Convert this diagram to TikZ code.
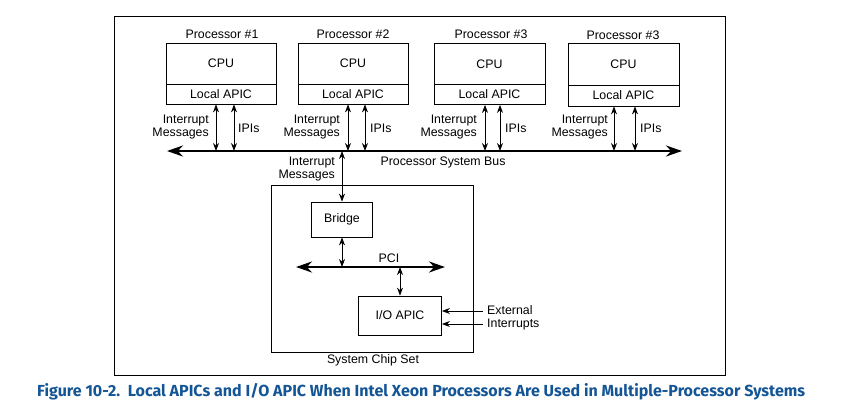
\documentclass[tikz,border=0pt]{standalone}
\usepackage{fontspec}
\setmainfont{Liberation Sans}
\newfontfamily\capfont{Fira Sans}
\usetikzlibrary{arrows.meta,calc}
\definecolor{capblue}{RGB}{20,85,150}
\tikzset{
  lbl/.style={inner sep=0pt, font=\fontsize{12.4}{12.8}\selectfont},
  cpubox/.style={draw, line width=0.8bp, minimum width=110bp, minimum height=41bp, inner sep=0pt, font=\fontsize{12.4}{12.8}\selectfont},
  apicbox/.style={draw, line width=0.8bp, minimum width=110bp, minimum height=20bp, inner sep=0pt, font=\fontsize{12.4}{12.8}\selectfont},
  plainbox/.style={draw, line width=0.8bp, inner sep=0pt, font=\fontsize{12.4}{12.8}\selectfont},
  varr/.style={line width=0.8bp, {Stealth[length=8bp,width=6bp]}-{Stealth[length=8bp,width=6bp]}},
  sarr/.style={line width=0.8bp, -{Stealth[length=8bp,width=6bp]}},
  busline/.style={line width=2.6bp, {Stealth[length=16bp,width=11bp]}-{Stealth[length=16bp,width=11bp]}},
}
\begin{document}
\begin{tikzpicture}[x=1bp,y=-1bp]
\useasboundingbox (0,0) rectangle (842,405);
% outer frame
\node[draw, line width=0.9bp, minimum width=611bp, minimum height=359bp, inner sep=0pt] (frame) at (419.5,195.5) {};

% processors
\node[lbl] (t1) at (222,34) {Processor \#1};
\node[cpubox] (p1c) at (221,63.5) {CPU};
\node[apicbox] (p1a) at (221,94) {Local APIC};
\node[lbl] (t2) at (353,34) {Processor \#2};
\node[cpubox] (p2c) at (353,63.5) {CPU};
\node[apicbox] (p2a) at (353,94) {Local APIC};
\node[lbl] (t3) at (491,34) {Processor \#3};
\node[cpubox, minimum width=111bp] (p3c) at (489.5,64) {CPU};
\node[apicbox, minimum width=111bp] (p3a) at (489.5,94.5) {Local APIC};
\node[lbl] (t4) at (623,35) {Processor \#3};
\node[cpubox, minimum width=111bp, minimum height=42bp] (p4c) at (623.5,64) {CPU};
\node[apicbox, minimum width=111bp, minimum height=21bp] (p4a) at (623.5,95.5) {Local APIC};

% bus
\coordinate (busL) at (167,151);
\coordinate (busR) at (682,151);
\draw[busline] (busL) -- (busR);
\node[lbl] (busname) at (443,162) {Processor System Bus};

% bus taps
\coordinate (i1) at (216,151); \coordinate (q1) at (234,151);
\coordinate (i2) at (348,151); \coordinate (q2) at (365,151);
\coordinate (i3) at (485,151); \coordinate (q3) at (500,151);
\coordinate (i4) at (614,151); \coordinate (q4) at (635,151);
\foreach \n in {1,2,3,4}{
  \draw[varr] (p\n a.south -| i\n) -- (i\n);
  \draw[varr] (p\n a.south -| q\n) -- (q\n);
}
\node[lbl, align=right, anchor=east] (m1) at (209,127) {Interrupt\\Messages};
\node[lbl, anchor=west] (ip1) at (238,128) {IPIs};
\node[lbl, align=right, anchor=east] (m2) at (340,127) {Interrupt\\Messages};
\node[lbl, anchor=west] (ip2) at (370,128) {IPIs};
\node[lbl, align=right, anchor=east] (m3) at (477,127) {Interrupt\\Messages};
\node[lbl, anchor=west] (ip3) at (505,128) {IPIs};
\node[lbl, align=right, anchor=east] (m4) at (608,127) {Interrupt\\Messages};
\node[lbl, anchor=west] (ip4) at (640,128) {IPIs};

% chip set
\node[plainbox, minimum width=202bp, minimum height=167bp] (chip) at (372,268.5) {};
\node[lbl] (chipname) at (373,360) {System Chip Set};
\node[plainbox, minimum width=61bp, minimum height=35bp] (br) at (342,219.5) {Bridge};
\node[plainbox, minimum width=83bp, minimum height=39bp] (io) at (400,315.5) {I/O APIC};
\draw[varr] (br.north) -- (br.north |- busL);
\node[lbl, align=right, anchor=east] (m5) at (335,169) {Interrupt\\Messages};

% PCI
\coordinate (pciL) at (296,267);
\coordinate (pciR) at (445,267);
\draw[busline] (pciL) -- (pciR);
\node[lbl] (pciname) at (389,258) {PCI};
\draw[varr] (br.south) -- (br.south |- pciL);
\draw[varr] (io.north) -- (io.north |- pciL);

% external interrupts
\coordinate (e1) at (483,311);
\coordinate (e2) at (483,324);
\draw[sarr] (e1) -- (e1 -| io.east);
\draw[sarr] (e2) -- (e2 -| io.east);
\node[lbl, align=left, anchor=west] (ext) at (487,317.5) {External\\Interrupts};

% caption
\node[anchor=base west, inner sep=0pt, text=capblue] (cap) at (37,396)
  {\resizebox{768bp}{!}{\capfont\bfseries\fontsize{17}{17}\selectfont Figure 10-2.\ \ Local APICs and I/O APIC When Intel Xeon Processors Are Used in Multiple-Processor Systems}};
\end{tikzpicture}
\end{document}
